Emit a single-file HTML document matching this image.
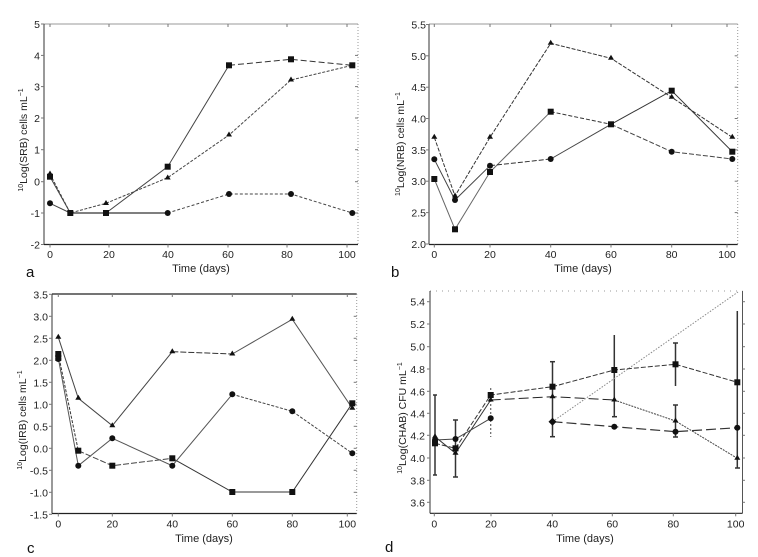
<!DOCTYPE html>
<html><head><meta charset="utf-8"><style>
html,body{margin:0;padding:0;background:#fff;}
svg{display:block;}
text{font-family:"Liberation Sans",Arial,sans-serif;fill:#222;}
.t{font-size:10.5px;}
.xl{font-size:11px;}
.pl{font-size:15px;fill:#111;}
.yl{font-size:10.5px;}
</style></head><body>
<svg width="758" height="557" viewBox="0 0 758 557" xmlns="http://www.w3.org/2000/svg">
<rect width="758" height="557" fill="#fff"/>

<!-- ================= PANEL A ================= -->
<g>
<line x1="44" y1="24" x2="358" y2="24" stroke="#bbb" stroke-width="1.5"/>
<line x1="358" y1="24" x2="358" y2="244.5" stroke="#999" stroke-width="1" stroke-dasharray="1,2"/>
<line x1="44" y1="24" x2="44" y2="244.5" stroke="#333" stroke-width="1"/>
<line x1="44" y1="244.5" x2="358" y2="244.5" stroke="#222" stroke-width="1.2"/>
<g stroke="#777" stroke-width="1">
<line x1="50" y1="24" x2="50" y2="27"/><line x1="109" y1="24" x2="109" y2="27"/><line x1="168" y1="24" x2="168" y2="27"/><line x1="228" y1="24" x2="228" y2="27"/><line x1="287" y1="24" x2="287" y2="27"/><line x1="347" y1="24" x2="347" y2="27"/>
<line x1="355" y1="55.4" x2="358" y2="55.4"/><line x1="355" y1="86.6" x2="358" y2="86.6"/><line x1="355" y1="118" x2="358" y2="118"/><line x1="355" y1="149.7" x2="358" y2="149.7"/><line x1="355" y1="181.7" x2="358" y2="181.7"/><line x1="355" y1="213" x2="358" y2="213"/>
<line x1="41" y1="24" x2="44" y2="24"/><line x1="41" y1="55.4" x2="44" y2="55.4"/><line x1="41" y1="86.6" x2="44" y2="86.6"/><line x1="41" y1="118" x2="44" y2="118"/><line x1="41" y1="149.7" x2="44" y2="149.7"/><line x1="41" y1="181.7" x2="44" y2="181.7"/><line x1="41" y1="213" x2="44" y2="213"/><line x1="41" y1="244.5" x2="44" y2="244.5"/>
<line x1="50" y1="244.5" x2="50" y2="247.5"/><line x1="109" y1="244.5" x2="109" y2="247.5"/><line x1="168" y1="244.5" x2="168" y2="247.5"/><line x1="228" y1="244.5" x2="228" y2="247.5"/><line x1="287" y1="244.5" x2="287" y2="247.5"/><line x1="347" y1="244.5" x2="347" y2="247.5"/>
</g>
<g class="t" text-anchor="end">
<text x="40" y="28">5</text><text x="40" y="59.4">4</text><text x="40" y="90.6">3</text><text x="40" y="122">2</text><text x="40" y="153.7">1</text><text x="40" y="185.7">0</text><text x="40" y="217">-1</text><text x="40" y="248.5">-2</text>
</g>
<g class="t" text-anchor="middle">
<text x="50" y="258">0</text><text x="109" y="258">20</text><text x="168" y="258">40</text><text x="228" y="258">60</text><text x="287" y="258">80</text><text x="347" y="258">100</text>
</g>
<text class="xl" x="201" y="272" text-anchor="middle">Time (days)</text>
<text class="pl" x="26" y="277">a</text>
<text class="yl" transform="translate(27,140) rotate(-90)" text-anchor="middle"><tspan font-size="7" dy="-4">10</tspan><tspan dy="4">Log(SRB) cells mL</tspan><tspan font-size="7" dy="-4">−1</tspan></text>
<!-- series -->
<polyline points="50,176.7 70.3,213 106,213 167.7,166.7 229,65.3" fill="none" stroke="#444" stroke-width="1"/>
<polyline points="229,65.3 291,59.3 352.3,65.3" fill="none" stroke="#333" stroke-width="1" stroke-dasharray="6,3"/>
<polyline points="50,174 70.3,213 106,203.3 167.7,177.7 229,135 291,80 352.3,65.3" fill="none" stroke="#444" stroke-width="1" stroke-dasharray="3,1.5"/>
<polyline points="50,203.3 70.3,213" fill="none" stroke="#444" stroke-width="1"/>
<polyline points="70.3,213 106,213 167.7,213" fill="none" stroke="#555" stroke-width="1.6"/>
<polyline points="167.7,213 229,194 291,194 352.3,213" fill="none" stroke="#444" stroke-width="1" stroke-dasharray="3,2"/>
<g fill="#111">
<rect x="47" y="173.7" width="6" height="6"/><rect x="67.3" y="210" width="6" height="6"/><rect x="103" y="210" width="6" height="6"/><rect x="164.7" y="163.7" width="6" height="6"/><rect x="226" y="62.3" width="6" height="6"/><rect x="288" y="56.3" width="6" height="6"/><rect x="349.3" y="62.3" width="6" height="6"/>
<path d="M50,170.5 l3,5 h-6z"/><path d="M106,200 l3,5 h-6z"/><path d="M167.7,174.5 l3,5 h-6z"/><path d="M229,131.5 l3,5 h-6z"/><path d="M291,76.5 l3,5 h-6z"/>
<circle cx="50" cy="203.3" r="3"/><circle cx="167.7" cy="213" r="3"/><circle cx="229" cy="194" r="3"/><circle cx="291" cy="194" r="3"/><circle cx="352.3" cy="213" r="3"/>
</g>
</g>

<!-- ================= PANEL B ================= -->
<g>
<line x1="429" y1="24" x2="737.7" y2="24" stroke="#bbb" stroke-width="1.5"/>
<line x1="737.7" y1="24" x2="737.7" y2="244.5" stroke="#999" stroke-width="1" stroke-dasharray="1,2"/>
<line x1="429" y1="24" x2="429" y2="244.5" stroke="#333" stroke-width="1"/>
<line x1="429" y1="244.5" x2="737.7" y2="244.5" stroke="#222" stroke-width="1.2"/>
<g stroke="#777" stroke-width="1">
<line x1="434.3" y1="24" x2="434.3" y2="27"/><line x1="490" y1="24" x2="490" y2="27"/><line x1="550.7" y1="24" x2="550.7" y2="27"/><line x1="611" y1="24" x2="611" y2="27"/><line x1="671.7" y1="24" x2="671.7" y2="27"/><line x1="727" y1="24" x2="727" y2="27"/>
<line x1="426" y1="24.5" x2="429" y2="24.5"/><line x1="426" y1="55.8" x2="429" y2="55.8"/><line x1="426" y1="87.2" x2="429" y2="87.2"/><line x1="426" y1="118.5" x2="429" y2="118.5"/><line x1="426" y1="149.9" x2="429" y2="149.9"/><line x1="426" y1="181.2" x2="429" y2="181.2"/><line x1="426" y1="212.6" x2="429" y2="212.6"/><line x1="426" y1="244" x2="429" y2="244"/>
<line x1="734.7" y1="55.8" x2="737.7" y2="55.8"/><line x1="734.7" y1="87.2" x2="737.7" y2="87.2"/><line x1="734.7" y1="118.5" x2="737.7" y2="118.5"/><line x1="734.7" y1="149.9" x2="737.7" y2="149.9"/><line x1="734.7" y1="181.2" x2="737.7" y2="181.2"/><line x1="734.7" y1="212.6" x2="737.7" y2="212.6"/>
<line x1="434.3" y1="244.5" x2="434.3" y2="247.5"/><line x1="490" y1="244.5" x2="490" y2="247.5"/><line x1="550.7" y1="244.5" x2="550.7" y2="247.5"/><line x1="611" y1="244.5" x2="611" y2="247.5"/><line x1="671.7" y1="244.5" x2="671.7" y2="247.5"/><line x1="727" y1="244.5" x2="727" y2="247.5"/>
</g>
<g class="t" text-anchor="end">
<text x="426" y="28.5">5.5</text><text x="426" y="59.8">5.0</text><text x="426" y="91.2">4.5</text><text x="426" y="122.5">4.0</text><text x="426" y="153.9">3.5</text><text x="426" y="185.2">3.0</text><text x="426" y="216.6">2.5</text><text x="426" y="248">2.0</text>
</g>
<g class="t" text-anchor="middle">
<text x="434.3" y="258">0</text><text x="490" y="258">20</text><text x="550.7" y="258">40</text><text x="611" y="258">60</text><text x="671.7" y="258">80</text><text x="727" y="258">100</text>
</g>
<text class="xl" x="583" y="272" text-anchor="middle">Time (days)</text>
<text class="pl" x="391" y="277">b</text>
<text class="yl" transform="translate(404,144) rotate(-90)" text-anchor="middle"><tspan font-size="7" dy="-4">10</tspan><tspan dy="4">Log(NRB) cells mL</tspan><tspan font-size="7" dy="-4">−1</tspan></text>
<polyline points="434.3,137.3 455,196 490,137.3 550.7,43.3 611,58.3 671.7,97.3 732.3,137.3" fill="none" stroke="#333" stroke-width="1" stroke-dasharray="4,1.5"/>
<polyline points="434.3,179 455,229.3 490,172 550.7,111.7" fill="none" stroke="#666" stroke-width="1"/>
<polyline points="550.7,111.7 611,124.3" fill="none" stroke="#333" stroke-width="1" stroke-dasharray="4,2"/>
<polyline points="611,124.3 671.7,90.7 732.3,151.7" fill="none" stroke="#333" stroke-width="1"/>
<polyline points="434.3,159.3 455,200 490,165.7" fill="none" stroke="#444" stroke-width="1"/>
<polyline points="490,165.7 550.7,159" fill="none" stroke="#333" stroke-width="1" stroke-dasharray="5,2"/>
<polyline points="550.7,159 611,124.3" fill="none" stroke="#444" stroke-width="1"/>
<polyline points="611,124.3 671.7,151.7 732.3,159" fill="none" stroke="#444" stroke-width="1" stroke-dasharray="5,2"/>
<g fill="#111">
<rect x="431.3" y="176" width="6" height="6"/><rect x="452" y="226.3" width="6" height="6"/><rect x="487" y="169" width="6" height="6"/><rect x="547.7" y="108.7" width="6" height="6"/><rect x="608" y="121.3" width="6" height="6"/><rect x="668.7" y="87.7" width="6" height="6"/><rect x="729.3" y="148.7" width="6" height="6"/>
<path d="M434.3,133.8 l3,5 h-6z"/><path d="M455,192.5 l3,5 h-6z"/><path d="M490,133.8 l3,5 h-6z"/><path d="M550.7,39.8 l3,5 h-6z"/><path d="M611,54.8 l3,5 h-6z"/><path d="M671.7,93.8 l3,5 h-6z"/><path d="M732.3,133.8 l3,5 h-6z"/>
<circle cx="434.3" cy="159.3" r="3"/><circle cx="455" cy="200" r="3"/><circle cx="490" cy="165.7" r="3"/><circle cx="550.7" cy="159" r="3"/><circle cx="671.7" cy="151.7" r="3"/><circle cx="732.3" cy="159" r="3"/>
</g>
</g>

<!-- ================= PANEL C ================= -->
<g>
<line x1="52" y1="294" x2="356.7" y2="294" stroke="#222" stroke-width="1.2"/>
<line x1="356.7" y1="294" x2="356.7" y2="513.5" stroke="#999" stroke-width="1" stroke-dasharray="1,2"/>
<line x1="52" y1="294" x2="52" y2="513.5" stroke="#333" stroke-width="1"/>
<line x1="52" y1="513.5" x2="356.7" y2="513.5" stroke="#222" stroke-width="1.2"/>
<g stroke="#777" stroke-width="1">
<line x1="58.3" y1="294" x2="58.3" y2="297"/><line x1="112.3" y1="294" x2="112.3" y2="297"/><line x1="172.3" y1="294" x2="172.3" y2="297"/><line x1="232.3" y1="294" x2="232.3" y2="297"/><line x1="292.3" y1="294" x2="292.3" y2="297"/><line x1="347.3" y1="294" x2="347.3" y2="297"/>
<line x1="49" y1="294.3" x2="52" y2="294.3"/><line x1="49" y1="316.3" x2="52" y2="316.3"/><line x1="49" y1="338.3" x2="52" y2="338.3"/><line x1="49" y1="360.3" x2="52" y2="360.3"/><line x1="49" y1="382.3" x2="52" y2="382.3"/><line x1="49" y1="404.3" x2="52" y2="404.3"/><line x1="49" y1="426.3" x2="52" y2="426.3"/><line x1="49" y1="448.3" x2="52" y2="448.3"/><line x1="49" y1="470.3" x2="52" y2="470.3"/><line x1="49" y1="492.3" x2="52" y2="492.3"/><line x1="49" y1="514.3" x2="52" y2="514.3"/>
<line x1="353.7" y1="316.3" x2="356.7" y2="316.3"/><line x1="353.7" y1="338.3" x2="356.7" y2="338.3"/><line x1="353.7" y1="360.3" x2="356.7" y2="360.3"/><line x1="353.7" y1="382.3" x2="356.7" y2="382.3"/><line x1="353.7" y1="404.3" x2="356.7" y2="404.3"/><line x1="353.7" y1="426.3" x2="356.7" y2="426.3"/><line x1="353.7" y1="448.3" x2="356.7" y2="448.3"/><line x1="353.7" y1="470.3" x2="356.7" y2="470.3"/><line x1="353.7" y1="492.3" x2="356.7" y2="492.3"/>
<line x1="58.3" y1="513.5" x2="58.3" y2="516.5"/><line x1="112.3" y1="513.5" x2="112.3" y2="516.5"/><line x1="172.3" y1="513.5" x2="172.3" y2="516.5"/><line x1="232.3" y1="513.5" x2="232.3" y2="516.5"/><line x1="292.3" y1="513.5" x2="292.3" y2="516.5"/><line x1="347.3" y1="513.5" x2="347.3" y2="516.5"/>
</g>
<g class="t" text-anchor="end">
<text x="48" y="298.3">3.5</text><text x="48" y="320.3">3.0</text><text x="48" y="342.3">2.5</text><text x="48" y="364.3">2.0</text><text x="48" y="386.3">1.5</text><text x="48" y="408.3">1.0</text><text x="48" y="430.3">0.5</text><text x="48" y="452.3">0.0</text><text x="48" y="474.3">-0.5</text><text x="48" y="496.3">-1.0</text><text x="48" y="518.3">-1.5</text>
</g>
<g class="t" text-anchor="middle">
<text x="58.3" y="527.5">0</text><text x="112.3" y="527.5">20</text><text x="172.3" y="527.5">40</text><text x="232.3" y="527.5">60</text><text x="292.3" y="527.5">80</text><text x="347.3" y="527.5">100</text>
</g>
<text class="xl" x="204" y="542" text-anchor="middle">Time (days)</text>
<text class="pl" x="27" y="553">c</text>
<text class="yl" transform="translate(26,420) rotate(-90)" text-anchor="middle"><tspan font-size="7" dy="-4">10</tspan><tspan dy="4">Log(IRB) cells mL</tspan><tspan font-size="7" dy="-4">−1</tspan></text>
<polyline points="58.3,337.3 78.3,398.3 112.3,425.7 172.3,351.7" fill="none" stroke="#444" stroke-width="1"/>
<polyline points="172.3,351.7 232.3,354" fill="none" stroke="#333" stroke-width="1" stroke-dasharray="6,2"/>
<polyline points="232.3,354 292.3,319.3 352.3,408.3" fill="none" stroke="#555" stroke-width="1"/>
<polyline points="58.3,354 78.3,450.7" fill="none" stroke="#333" stroke-width="1" stroke-dasharray="3,1.5"/>
<polyline points="78.3,450.7 112.3,465.7 172.3,458.3" fill="none" stroke="#444" stroke-width="1" stroke-dasharray="6,2"/>
<polyline points="172.3,458.3 232.3,492 292.3,492 352.3,403.3" fill="none" stroke="#333" stroke-width="1"/>
<polyline points="58.3,358.3 78.3,465.7 112.3,438.3 172.3,465.7 232.3,394.3" fill="none" stroke="#555" stroke-width="1"/>
<polyline points="232.3,394.3 292.3,411.3 352.3,453.3" fill="none" stroke="#444" stroke-width="1" stroke-dasharray="3,1.5"/>
<g fill="#111">
<rect x="55.3" y="351" width="6" height="6"/><rect x="55.3" y="355" width="6" height="6"/><rect x="75.3" y="447.7" width="6" height="6"/><rect x="109.3" y="462.7" width="6" height="6"/><rect x="169.3" y="455.3" width="6" height="6"/><rect x="229.3" y="489" width="6" height="6"/><rect x="289.3" y="489" width="6" height="6"/><rect x="349.3" y="400.3" width="6" height="6"/>
<path d="M58.3,333.8 l3,5 h-6z"/><path d="M78.3,394.8 l3,5 h-6z"/><path d="M112.3,422.2 l3,5 h-6z"/><path d="M172.3,348.2 l3,5 h-6z"/><path d="M232.3,350.5 l3,5 h-6z"/><path d="M292.3,315.8 l3,5 h-6z"/><path d="M352.3,404.8 l3,5 h-6z"/>
<circle cx="58.3" cy="359" r="3"/><circle cx="78.3" cy="465.7" r="3"/><circle cx="112.3" cy="438.3" r="3"/><circle cx="172.3" cy="465.7" r="3"/><circle cx="232.3" cy="394.3" r="3"/><circle cx="292.3" cy="411.3" r="3"/><circle cx="352.3" cy="453.3" r="3"/>
</g>
</g>

<!-- ================= PANEL D ================= -->
<g>
<line x1="430" y1="291" x2="742.5" y2="291" stroke="#999" stroke-width="1" stroke-dasharray="1,5"/>
<line x1="742.5" y1="291" x2="742.5" y2="513.3" stroke="#555" stroke-width="1"/>
<line x1="430" y1="291" x2="430" y2="513.3" stroke="#333" stroke-width="1"/>
<line x1="430" y1="513.3" x2="742.5" y2="513.3" stroke="#222" stroke-width="1.2"/>
<g stroke="#777" stroke-width="1">
<line x1="427" y1="301.7" x2="430" y2="301.7"/><line x1="427" y1="324" x2="430" y2="324"/><line x1="427" y1="346.7" x2="430" y2="346.7"/><line x1="427" y1="369" x2="430" y2="369"/><line x1="427" y1="391.3" x2="430" y2="391.3"/><line x1="427" y1="413.3" x2="430" y2="413.3"/><line x1="427" y1="435.3" x2="430" y2="435.3"/><line x1="427" y1="458" x2="430" y2="458"/><line x1="427" y1="480.3" x2="430" y2="480.3"/><line x1="427" y1="502.3" x2="430" y2="502.3"/>
<line x1="742.5" y1="301.7" x2="745" y2="301.7"/><line x1="742.5" y1="324" x2="745" y2="324"/><line x1="742.5" y1="346.7" x2="745" y2="346.7"/><line x1="742.5" y1="369" x2="745" y2="369"/><line x1="742.5" y1="391.3" x2="745" y2="391.3"/><line x1="742.5" y1="413.3" x2="745" y2="413.3"/><line x1="742.5" y1="435.3" x2="745" y2="435.3"/><line x1="742.5" y1="458" x2="745" y2="458"/><line x1="742.5" y1="480.3" x2="745" y2="480.3"/><line x1="742.5" y1="502.3" x2="745" y2="502.3"/>
<line x1="434.3" y1="513.3" x2="434.3" y2="516.3"/><line x1="491" y1="513.3" x2="491" y2="516.3"/><line x1="552.3" y1="513.3" x2="552.3" y2="516.3"/><line x1="612.3" y1="513.3" x2="612.3" y2="516.3"/><line x1="673.3" y1="513.3" x2="673.3" y2="516.3"/><line x1="735.7" y1="513.3" x2="735.7" y2="516.3"/>
</g>
<g class="t" text-anchor="end">
<text x="425" y="305.7">5.4</text><text x="425" y="328">5.2</text><text x="425" y="350.7">5.0</text><text x="425" y="373">4.8</text><text x="425" y="395.3">4.6</text><text x="425" y="417.3">4.4</text><text x="425" y="439.3">4.2</text><text x="425" y="462">4.0</text><text x="425" y="484.3">3.8</text><text x="425" y="506.3">3.6</text>
</g>
<g class="t" text-anchor="middle">
<text x="434.3" y="527.5">0</text><text x="491" y="527.5">20</text><text x="552.3" y="527.5">40</text><text x="612.3" y="527.5">60</text><text x="673.3" y="527.5">80</text><text x="735.7" y="527.5">100</text>
</g>
<text class="xl" x="585" y="542" text-anchor="middle">Time (days)</text>
<text class="pl" x="385" y="552">d</text>
<text class="yl" transform="translate(406,418) rotate(-90)" text-anchor="middle"><tspan font-size="7" dy="-4">10</tspan><tspan dy="4">Log(CHAB) CFU mL</tspan><tspan font-size="7" dy="-4">−1</tspan></text>
<!-- error bars -->
<g stroke="#333" stroke-width="1.5">
<line x1="435" y1="395" x2="435" y2="475"/><line x1="433" y1="475" x2="437" y2="475"/><line x1="433" y1="395" x2="437" y2="395"/>
<line x1="455.5" y1="420" x2="455.5" y2="477"/><line x1="453" y1="477" x2="458" y2="477"/><line x1="453" y1="420" x2="458" y2="420"/>
<line x1="552.5" y1="361.7" x2="552.5" y2="436.7"/><line x1="550" y1="436.7" x2="555" y2="436.7"/><line x1="550" y1="361.7" x2="555" y2="361.7"/>
<line x1="614.3" y1="335" x2="614.3" y2="416.7"/><line x1="612" y1="416.7" x2="617" y2="416.7"/>
<line x1="675.5" y1="343" x2="675.5" y2="386"/><line x1="673" y1="343" x2="678" y2="343"/>
<line x1="675.5" y1="405" x2="675.5" y2="437"/><line x1="673" y1="405" x2="678" y2="405"/><line x1="673" y1="437" x2="678" y2="437"/>
<line x1="737.3" y1="311" x2="737.3" y2="468"/><line x1="735" y1="468" x2="740" y2="468"/>
</g>
<line x1="490.7" y1="388" x2="490.7" y2="437" stroke="#666" stroke-width="1.2" stroke-dasharray="2,2"/>
<line x1="552.5" y1="421.7" x2="738" y2="292" stroke="#888" stroke-width="1" stroke-dasharray="1.5,1.5"/>
<!-- series -->
<polyline points="435,443.3 455.5,448.3 490.7,395 552.5,386.7 614.3,370 675.5,364.3 737.3,382.3" fill="none" stroke="#333" stroke-width="1" stroke-dasharray="5,2"/>
<polyline points="435,436.7 455.5,453.3 490.7,400" fill="none" stroke="#333" stroke-width="1"/>
<polyline points="490.7,400 552.5,396.7 614.3,400" fill="none" stroke="#222" stroke-width="1" stroke-dasharray="10,4"/>
<polyline points="614.3,400 675.5,421 737.3,458.3" fill="none" stroke="#444" stroke-width="1" stroke-dasharray="2,1"/>
<polyline points="435,440 455.5,439 490.7,418.3" fill="none" stroke="#444" stroke-width="1"/>
<polyline points="552.5,421.7 614.3,426.7 675.5,431.7 737.3,427.7" fill="none" stroke="#333" stroke-width="1.2" stroke-dasharray="10,4"/>
<g fill="#111">
<rect x="432" y="440.3" width="6" height="6"/><rect x="452.5" y="445.3" width="6" height="6"/><rect x="487.7" y="392" width="6" height="6"/><rect x="549.5" y="383.7" width="6" height="6"/><rect x="611.3" y="367" width="6" height="6"/><rect x="672.5" y="361.3" width="6" height="6"/><rect x="734.3" y="379.3" width="6" height="6"/>
<path d="M435,433.2 l3,5 h-6z"/><path d="M455.5,449.8 l3,5 h-6z"/><path d="M490.7,396.5 l3,5 h-6z"/><path d="M552.5,393.2 l3,5 h-6z"/><path d="M614.3,396.5 l3,5 h-6z"/><path d="M675.5,417.5 l3,5 h-6z"/><path d="M737.3,454.8 l3,5 h-6z"/>
<circle cx="435" cy="440" r="3"/><circle cx="455.5" cy="439" r="3"/><circle cx="490.7" cy="418.3" r="3"/><path d="M552.5,417.7 l4,4 l-4,4 l-4,-4z"/><circle cx="614.3" cy="426.7" r="3"/><circle cx="675.5" cy="431.7" r="3"/><circle cx="737.3" cy="427.7" r="3"/>
</g>
</g>
</svg>
</body></html>
